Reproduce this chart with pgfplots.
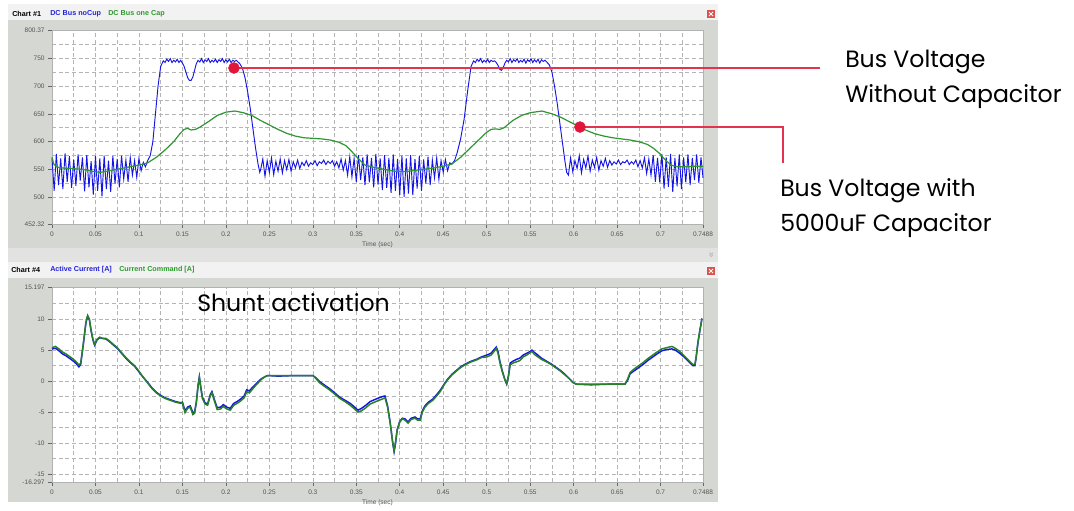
\documentclass[border=0pt]{standalone}
\usepackage{pgfplots}
\usepackage{pgfplotstable}
\pgfplotsset{compat=1.18}
\usepackage{fontspec}
\setmainfont{Liberation Sans}
\newfontfamily\callout{Poppins}

\definecolor{panelgray}{HTML}{D5D7D3}
\definecolor{stripgray}{HTML}{E2E3E1}
\definecolor{titlebar}{HTML}{F2F2F2}
\definecolor{gridgray}{HTML}{B4B4B4}
\definecolor{traceblue}{HTML}{1515E6}
\definecolor{tracegreen}{HTML}{2F9632}
\definecolor{titleblue}{HTML}{2424D8}
\definecolor{titlegreen}{HTML}{2E9A2E}
\definecolor{callred}{HTML}{E2334F}
\definecolor{dotred}{HTML}{E0163A}
\definecolor{closered}{HTML}{D9534F}
\definecolor{ticktext}{HTML}{555555}

% DC bus voltage, no bus capacitor (time [s], voltage [V])
\pgfplotstableread{
t v
0.0000 570
0.0025 512
0.0050 578
0.0075 522
0.0100 570
0.0125 515
0.0150 579
0.0175 528
0.0200 574
0.0225 517
0.0250 568
0.0275 521
0.0300 577
0.0325 530
0.0350 572
0.0375 511
0.0400 576
0.0425 518
0.0450 565
0.0475 505
0.0500 574
0.0525 512
0.0550 570
0.0575 502
0.0600 575
0.0625 515
0.0650 566
0.0675 510
0.0700 574
0.0725 525
0.0750 569
0.0775 518
0.0800 575
0.0825 533
0.0850 567
0.0875 528
0.0900 572
0.0925 540
0.0950 566
0.0975 536
0.1000 570
0.1025 548
0.1050 563
0.1075 555
0.1100 566
0.1130 575
0.1160 600
0.1190 650
0.1220 700
0.1250 735
0.1280 745
0.130 742
0.132 748
0.134 744
0.136 749
0.138 742
0.140 746
0.142 743
0.144 748
0.146 742
0.148 746
0.150 741
0.152 735
0.154 725
0.156 715
0.158 710
0.160 710
0.162 716
0.164 728
0.166 740
0.168 746
0.170 743
0.172 749
0.174 742
0.176 747
0.178 744
0.180 749
0.182 742
0.184 746
0.186 743
0.188 748
0.190 742
0.192 747
0.194 744
0.196 749
0.198 742
0.200 747
0.202 743
0.204 748
0.206 742
0.208 746
0.210 744
0.212 746
0.214 743
0.216 740
0.219 732
0.222 715
0.225 690
0.228 660
0.231 625
0.234 590
0.237 560
0.239 545
0.2400 550
0.2425 569
0.2450 538
0.2475 566
0.2500 545
0.2525 571
0.2550 541
0.2575 565
0.2600 547
0.2625 569
0.2650 544
0.2675 566
0.2700 550
0.2725 568
0.2750 547
0.2775 564
0.2800 553
0.2825 567
0.2850 552
0.2875 563
0.2900 557
0.2925 566
0.2950 556
0.2975 562
0.3000 559
0.3025 566
0.3050 557
0.3075 564
0.3100 561
0.3125 567
0.3150 559
0.3175 565
0.3200 561
0.3225 566
0.3250 556
0.3275 564
0.3300 553
0.3325 569
0.3350 549
0.3375 566
0.3400 540
0.3425 573
0.3450 537
0.3475 570
0.3500 528
0.3525 576
0.3550 531
0.3575 572
0.3600 522
0.3625 577
0.3650 527
0.3675 571
0.3700 518
0.3725 578
0.3750 523
0.3775 570
0.3800 513
0.3825 576
0.3850 517
0.3875 571
0.3900 508
0.3925 577
0.3950 512
0.3975 569
0.4000 504
0.4025 575
0.4050 501
0.4075 570
0.4100 507
0.4125 576
0.4150 504
0.4175 569
0.4200 516
0.4225 574
0.4250 512
0.4275 568
0.4300 525
0.4325 573
0.4350 522
0.4375 567
0.4400 535
0.4425 571
0.4450 532
0.4475 566
0.4500 545
0.4525 568
0.4550 548
0.4575 562
0.4600 560
0.4630 566
0.4660 580
0.4700 605
0.4740 640
0.4780 690
0.4820 735
0.4850 745
0.487 742
0.489 748
0.491 744
0.493 749
0.495 742
0.497 746
0.499 743
0.501 748
0.503 742
0.505 746
0.507 744
0.509 745
0.511 742
0.513 737
0.515 730
0.517 728
0.519 733
0.521 741
0.523 746
0.525 743
0.527 749
0.529 742
0.531 747
0.533 744
0.535 749
0.537 742
0.539 746
0.541 743
0.543 748
0.545 741
0.547 747
0.549 744
0.551 749
0.553 742
0.555 747
0.557 743
0.559 748
0.561 741
0.563 747
0.565 744
0.567 746
0.569 743
0.572 738
0.575 725
0.578 700
0.581 670
0.584 635
0.587 600
0.590 565
0.592 545
0.5940 540
0.5965 571
0.5990 546
0.6015 566
0.6040 552
0.6065 575
0.6090 544
0.6115 568
0.6140 553
0.6165 574
0.6190 547
0.6215 567
0.6240 554
0.6265 572
0.6290 549
0.6315 566
0.6340 556
0.6365 570
0.6390 554
0.6415 566
0.6440 558
0.6465 564
0.6490 560
0.6515 567
0.6540 559
0.6565 564
0.6590 562
0.6615 567
0.6640 559
0.6665 564
0.6690 560
0.6715 567
0.6740 555
0.6765 566
0.6790 553
0.6815 571
0.6840 543
0.6865 569
0.6890 540
0.6915 576
0.6940 528
0.6965 571
0.6990 527
0.7015 578
0.7040 516
0.7065 572
0.7090 519
0.7115 578
0.7140 510
0.7165 571
0.7190 520
0.7215 577
0.7240 515
0.7265 572
0.7290 527
0.7315 577
0.7340 522
0.7365 571
0.7390 531
0.7415 577
0.7440 526
0.7465 572
0.7488 535
}\busnocap

% DC bus voltage with one capacitor
\pgfplotstableread{
t v
0.000 572
0.002 560
0.005 555
0.010 553
0.020 552
0.030 551
0.040 549
0.050 546
0.055 545
0.060 546
0.070 549
0.080 552
0.090 555
0.100 558
0.110 562
0.120 572
0.130 585
0.140 600
0.147 614
0.152 622
0.156 624
0.160 621
0.165 622
0.170 626
0.180 636
0.190 647
0.200 653
0.2105 655
0.220 652
0.230 647
0.240 638
0.250 630
0.260 622
0.270 615
0.280 610
0.290 607
0.300 606
0.310 605
0.320 603
0.330 599
0.338 593
0.345 582
0.352 570
0.360 558
0.370 554
0.380 551
0.390 548
0.400 546
0.410 547
0.420 549
0.430 551
0.440 553
0.450 556
0.460 560
0.470 572
0.480 587
0.490 602
0.500 617
0.505 622
0.510 623
0.515 622
0.520 625
0.530 638
0.540 647
0.550 652
0.5635 655
0.575 650
0.585 644
0.595 636
0.605 628
0.615 620
0.625 614
0.635 610
0.645 607
0.655 605
0.665 603
0.675 600
0.685 595
0.692 588
0.698 580
0.705 568
0.712 558
0.720 555
0.730 555
0.740 556
0.7488 556
}\busonecap

% Current command and active current [A]
\pgfplotstableread{
t cmd act
0.000 5.4 5.2
0.004 5.6 5.3
0.008 5.2 4.9
0.012 4.7 4.4
0.016 4.4 4.1
0.020 4.0 3.7
0.024 3.6 3.3
0.028 3.1 2.8
0.031 2.6 2.3
0.033 2.9 2.7
0.036 6.0 5.9
0.039 9.5 9.4
0.041 10.6 10.5
0.043 10.0 9.9
0.045 8.2 8.1
0.047 6.8 6.7
0.049 5.9 5.8
0.052 6.8 6.7
0.055 7.1 7.0
0.058 6.9 6.9
0.062 6.9 6.8
0.066 6.5 6.4
0.070 6.0 5.9
0.075 5.4 5.3
0.080 4.6 4.5
0.085 3.8 3.7
0.090 3.1 3.0
0.095 2.5 2.4
0.100 1.6 1.5
0.105 0.6 0.6
0.110 -0.3 -0.2
0.115 -1.2 -1.1
0.120 -1.9 -1.8
0.125 -2.4 -2.3
0.130 -2.8 -2.7
0.136 -3.1 -3.0
0.142 -3.4 -3.3
0.148 -3.6 -3.5
0.150 -3.5 -3.4
0.153 -5.1 -4.8
0.156 -4.4 -4.2
0.159 -4.2 -4.0
0.162 -5.4 -5.1
0.164 -5.2 -5.0
0.166 -3.5 -3.4
0.168 -0.8 -0.7
0.1695 0.6 0.7
0.171 -1.0 -0.8
0.173 -2.8 -2.6
0.176 -3.7 -3.5
0.179 -3.9 -3.7
0.182 -2.4 -2.2
0.184 -1.9 -1.7
0.187 -3.3 -3.1
0.190 -4.6 -4.3
0.194 -4.5 -4.2
0.197 -4.1 -3.8
0.201 -4.5 -4.2
0.205 -4.7 -4.4
0.209 -3.9 -3.6
0.213 -3.6 -3.3
0.217 -3.2 -2.9
0.221 -2.7 -2.4
0.224 -1.7 -1.4
0.227 -1.9 -1.6
0.230 -1.4 -1.1
0.233 -0.9 -0.7
0.237 -0.3 -0.1
0.241 0.3 0.4
0.245 0.7 0.7
0.248 0.9 0.9
0.260 0.9 0.8
0.280 0.9 0.9
0.300 0.9 0.9
0.303 0.5 0.6
0.308 -0.3 -0.1
0.314 -0.9 -0.7
0.320 -1.5 -1.3
0.326 -2.2 -2.0
0.331 -2.8 -2.6
0.337 -3.3 -3.1
0.343 -3.9 -3.6
0.348 -4.5 -4.2
0.352 -5.0 -4.7
0.356 -4.8 -4.4
0.361 -4.3 -3.9
0.366 -3.7 -3.3
0.371 -3.4 -3.0
0.376 -3.1 -2.7
0.380 -2.9 -2.5
0.383 -2.7 -2.4
0.386 -4.2 -4.0
0.389 -6.8 -6.7
0.392 -10.0 -10.1
0.3935 -11.2 -11.4
0.395 -10.0 -10.2
0.397 -7.9 -7.9
0.400 -6.6 -6.5
0.403 -6.1 -6.0
0.406 -6.3 -6.1
0.4095 -6.8 -6.6
0.413 -6.2 -6.0
0.4175 -6.0 -5.8
0.4205 -6.3 -6.1
0.4235 -6.3 -6.1
0.426 -5.0 -4.8
0.429 -4.2 -4.0
0.433 -3.6 -3.4
0.438 -3.1 -2.9
0.443 -2.3 -2.1
0.447 -1.6 -1.4
0.451 -0.6 -0.5
0.455 0.2 0.3
0.460 1.0 1.1
0.465 1.6 1.7
0.470 2.2 2.3
0.476 2.7 2.8
0.482 3.1 3.2
0.488 3.4 3.5
0.494 3.8 3.9
0.500 3.9 4.2
0.505 4.2 4.5
0.508 4.7 5.0
0.511 5.3 5.5
0.513 4.5 4.8
0.515 3.1 3.3
0.518 1.5 1.6
0.521 0.2 0.2
0.523 -0.4 -0.5
0.525 0.8 0.8
0.527 2.6 2.9
0.530 2.9 3.2
0.534 3.1 3.5
0.538 3.3 3.7
0.542 3.9 4.2
0.546 4.2 4.5
0.549 4.5 4.7
0.552 4.8 5.0
0.555 4.3 4.6
0.558 4.0 4.3
0.563 3.5 3.7
0.569 3.1 3.2
0.575 2.6 2.7
0.580 2.1 2.2
0.585 1.6 1.7
0.590 1.0 1.1
0.595 0.4 0.4
0.599 -0.2 -0.2
0.603 -0.5 -0.5
0.620 -0.5 -0.6
0.640 -0.5 -0.5
0.659 -0.5 -0.5
0.662 0.3 0.1
0.665 1.4 1.2
0.670 2.0 1.7
0.675 2.5 2.2
0.680 3.0 2.7
0.685 3.6 3.3
0.691 4.2 3.9
0.696 4.7 4.4
0.7015 5.2 4.9
0.707 5.4 5.1
0.713 5.6 5.2
0.717 5.3 5.0
0.722 4.8 4.5
0.727 4.1 3.9
0.732 3.4 3.2
0.737 2.7 2.5
0.7395 2.7 2.5
0.741 4.0 3.9
0.743 6.3 6.2
0.745 8.0 8.0
0.7476 10.1 10.1
}\currents

\pgfplotsset{
  scopestyle/.style={
    scale only axis,
    width=488.25pt,
    anchor=north west,
    xmin=0, xmax=0.7488,
    xtick={0,0.05,0.1,0.15,0.2,0.25,0.3,0.35,0.4,0.45,0.5,0.55,0.6,0.65,0.7,0.7488},
    xticklabels={0,0.05,0.1,0.15,0.2,0.25,0.3,0.35,0.4,0.45,0.5,0.55,0.6,0.65,0.7,0.7488},
    minor xtick={0.025,0.075,0.125,0.175,0.225,0.275,0.325,0.375,0.425,0.475,0.525,0.575,0.625,0.675,0.725},
    grid=both,
    major grid style={gridgray, line width=0.45pt, dash pattern=on 3pt off 2pt},
    minor grid style={gridgray, line width=0.45pt, dash pattern=on 3pt off 2pt},
    axis background/.style={fill=white},
    axis line style={draw=gray!60, line width=0.4pt},
    xtick pos=bottom, ytick pos=left,
    tick align=outside,
    major tick length=3pt,
    minor tick length=0pt,
    major tick style={draw=gray!80!black, line width=0.4pt},
    tick label style={font=\fontsize{4.9}{5.5}\selectfont, text=ticktext},
    /pgf/number format/assume math mode=true,
    xticklabel style={yshift=0.5pt},
    yticklabel style={xshift=1pt},
    xlabel={Time (sec)},
    xlabel style={font=\fontsize{4.9}{5.5}\selectfont, text=ticktext,
      at={(axis description cs:0.5,0)}, anchor=north, yshift=-10pt},
    clip=false,
  }
}

\begin{document}
\begin{tikzpicture}
% window panels, drawn on a 1 px grid with y pointing down
\begin{scope}[x=0.75pt, y=-0.75pt]
  \fill[white] (0,0) rectangle (1074,502);
  \fill[titlebar] (8,4) rectangle (718,20);
  \fill[panelgray] (8,20) rectangle (718,248);
  \fill[stripgray] (8,248) rectangle (718,262);
  \fill[titlebar] (8,262) rectangle (718,278);
  \fill[panelgray] (8,278) rectangle (718,502);
  % chart titles
  \node[anchor=west, inner sep=0, font=\fontsize{5.4}{6}\selectfont\bfseries] at (12,14) {Chart \#1};
  \node[anchor=west, inner sep=0, font=\fontsize{5.4}{6}\selectfont\bfseries, text=titleblue] at (50,14) {DC Bus noCup};
  \node[anchor=west, inner sep=0, font=\fontsize{5.4}{6}\selectfont\bfseries, text=titlegreen] at (108,14) {DC Bus one Cap};
  \node[anchor=west, inner sep=0, font=\fontsize{5.4}{6}\selectfont\bfseries] at (11,270) {Chart \#4};
  \node[anchor=west, inner sep=0, font=\fontsize{5.4}{6}\selectfont\bfseries, text=titleblue] at (50,270) {Active Current [A]};
  \node[anchor=west, inner sep=0, font=\fontsize{5.4}{6}\selectfont\bfseries, text=titlegreen] at (119,270) {Current Command [A]};
  % close buttons
  \foreach \yy in {14,271} {
    \fill[closered] (707,\yy-4) rectangle (715,\yy+4);
    \draw[white, line width=0.6pt] (709,\yy-2) -- (713,\yy+2) (709,\yy+2) -- (713,\yy-2);
  }
  \node[rotate=-90, inner sep=0, text=gray!70, font=\fontsize{7}{7}\selectfont] at (711,255) {»};
\end{scope}

% DC bus voltage
\begin{axis}[scopestyle,
  at={(39pt,-22.5pt)}, height=145.5pt,
  ymin=452.32, ymax=800.37,
  ytick={452.32,500,550,600,650,700,750,800.37},
  yticklabels={452.32,500,550,600,650,700,750,800.37},
  minor ytick={475,525,575,625,675,725,775},
]
\addplot[traceblue, line width=0.7pt] table[x=t, y=v] {\busnocap};
\addplot[tracegreen, line width=0.9pt] table[x=t, y=v] {\busonecap};
\draw[callred, line width=0.9pt] (axis cs:0.2093,732.2) -- (axis cs:0.8834,732.2);
\draw[callred, line width=0.9pt] (axis cs:0.6073,626.3) -- (axis cs:0.8408,626.3) -- (axis cs:0.8408,561.75);
\addplot[only marks, mark=*, mark size=4.1pt, dotred, mark options={draw=dotred, fill=dotred}]
  coordinates {(0.2093,732.2) (0.6073,626.3)};
\end{axis}

% phase currents
\begin{axis}[scopestyle,
  at={(39pt,-215.25pt)}, height=146.25pt,
  ymin=-16.297, ymax=15.197,
  ytick={-16.297,-15,-10,-5,0,5,10,15.197},
  yticklabels={-16.297,-15,-10,-5,0,5,10,15.197},
  minor ytick={-12.5,-7.5,-2.5,2.5,7.5,12.5},
]
\addplot[traceblue, line width=1.1pt] table[x=t, y=act] {\currents};
\addplot[tracegreen!85!black, line width=1.1pt] table[x=t, y=cmd] {\currents};
\end{axis}

% callout text
\begin{scope}[x=0.75pt, y=-0.75pt]
  \node[anchor=base west, inner sep=0, font=\callout\fontsize{17.7}{20}\selectfont] at (845,67.5) {Bus Voltage};
  \node[anchor=base west, inner sep=0, font=\callout\fontsize{17.7}{20}\selectfont] at (845,102.5) {Without Capacitor};
  \node[anchor=base west, inner sep=0, font=\callout\fontsize{17.7}{20}\selectfont] at (780,196) {Bus Voltage with};
  \node[anchor=base west, inner sep=0, font=\callout\fontsize{17.7}{20}\selectfont] at (780,231.5) {5000uF Capacitor};
  \node[anchor=base west, inner sep=0, font=\callout\fontsize{17.7}{20}\selectfont] at (197,311.5) {Shunt activation};
\end{scope}
\end{tikzpicture}
\end{document}
